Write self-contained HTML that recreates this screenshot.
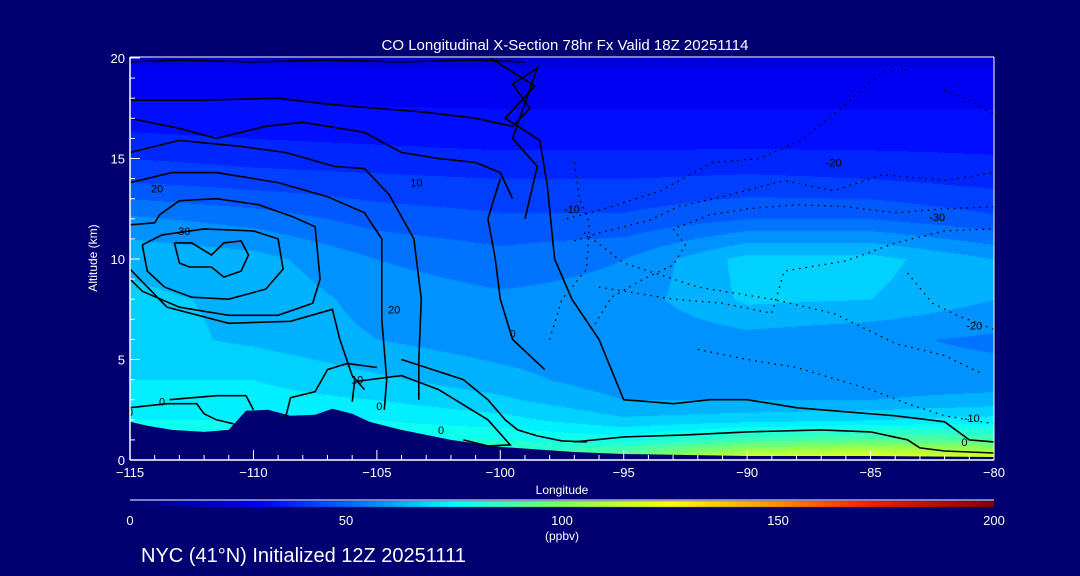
<!DOCTYPE html>
<html><head><meta charset="utf-8"><style>
html,body{margin:0;padding:0;background:#000070;}
#wrap{position:relative;width:1080px;height:576px;overflow:hidden;background:#000070;font-family:"Liberation Sans",sans-serif;}
canvas,svg{position:absolute;left:0;top:0;}
</style></head><body>
<div id="wrap">
<canvas id="cv" width="1080" height="576"></canvas>
<svg id="sv" width="1080" height="576"></svg>
</div>
<script>
const lons=[-115,-110,-105,-100,-95,-90,-85,-80];
const alts=[0,1,2,3,4,6,8,10,12,14,16,18,20];
const coValues=[
[80,80,80,85,100,122,128,122],
[78,78,80,80,78,88,92,90],
[75,75,75,72,66,68,70,72],
[72,72,70,66,60,60,60,62],
[70,70,66,62,57,57,57,57],
[67,64,60,57,56,58,56,54],
[66,64,58,56,57,66,65,60],
[64,62,55,52,55,67,67,60],
[56,53,48,46,46,50,50,46],
[44,42,41,40,40,41,40,38],
[36,35,34,33,33,33,33,33],
[30,30,29,29,29,29,29,29],
[24,24,24,24,24,24,24,24]];
const terrainLon=[-115,-114.3,-113.3,-112,-111,-110.3,-109.4,-108.5,-107.5,-106.8,-106,-105.3,-104,-102,-100,-97,-95,-90,-85,-80];
const terrainAlt=[1.9,1.7,1.5,1.4,1.5,2.45,2.5,2.2,2.25,2.55,2.3,1.9,1.5,1.0,0.65,0.4,0.3,0.2,0.2,0.15];
const cbStops=[0,30,50,75,100,125,150,170,200];
const cbColors=[[0,0,112],[0,0,255],[0,100,255],[0,255,255],[128,255,96],[255,255,0],[255,144,0],[255,32,0],[128,0,0]];
const xTicks=[-115,-110,-105,-100,-95,-90,-85,-80];
const yTicks=[0,5,10,15,20];
const cbTicks=[0,50,100,150,200];
const contours=[
{lon:[-115,-113,-110,-107,-104,-101,-99],alt:[19.8,19.9,19.8,19.9,19.8,19.9,19.8],d:0},
{lon:[-115,-112,-109,-107,-105,-103,-101,-99.5,-98.8,-99.5,-98.5,-99.5,-98.5,-99],alt:[17.9,17.9,18.0,17.7,17.5,17.3,17.0,16.6,17.5,18.7,19.5,16.0,14.6,12],d:0},
{lon:[-115,-113,-111.5,-109.5,-108,-105.5,-104,-102.5,-101,-100,-99.5],alt:[17.0,16.5,16.0,16.6,16.8,16.3,15.3,15.0,14.8,14.3,13.0],d:0},
{lon:[-115,-113,-110.5,-108.7,-106.7,-105.5,-104.5,-103.5,-103.2,-103.3,-103.3],alt:[15.3,15.9,15.6,15.3,14.6,14.5,13.2,11,8,5,3],d:0},
{lon:[-115,-113.3,-111.5,-109,-107,-105.5,-104.8,-104.8,-104.6,-104.7],alt:[13.8,14.3,14.3,13.8,13.1,12.3,11,7,4,2.5],d:0},
{lon:[-115,-114,-113.8,-113,-111.5,-109.8,-108.4,-107.5,-107.3,-107.6,-109,-111,-113,-114.5,-115],alt:[11.7,11.8,12.2,12.9,13.0,12.7,12.1,11.6,9,7.8,7.2,7.2,7.6,8.4,9],d:0},
{lon:[-114.5,-113.7,-112,-110,-109,-108.8,-109.5,-111,-112.5,-113.6,-114.3,-114.5],alt:[10.7,11.2,11.5,11.4,11.0,9.5,8.5,8.0,8.1,8.6,9.4,10.7],d:0},
{lon:[-113.2,-112.5,-111.7,-111.2,-110.5,-110.2,-110.5,-111.2,-111.7,-112.6,-113.0,-113.2],alt:[10.8,10.8,10.2,10.8,10.9,10.2,9.4,9.1,9.6,9.6,9.8,10.8],d:0},
{lon:[-115,-113.5,-111,-108.5,-106.8,-106.5,-106,-105.5],alt:[9.5,7.6,6.8,6.9,7.5,6.0,4.2,3.5],d:0},
{lon:[-100.4,-98.6,-99.8,-98.4,-98.1,-97.8,-97.1,-96,-95,-93,-91.5,-90,-88,-86,-84,-82,-81,-80],alt:[20,18.6,17.0,15.9,13.7,10,8,6.0,3.0,2.8,3.0,3.0,2.6,2.4,2.2,1.9,1.0,0.9],d:0},
{lon:[-100,-100.5,-100.2,-100,-99.5,-98.2],alt:[14,12,10,8,6,4.5],d:0},
{lon:[-115,-113.5,-112.3,-112,-111.5,-110.8],alt:[2.6,2.8,2.8,2.3,2.0,1.8],d:0},
{lon:[-113.4,-111.5,-110.3,-110],alt:[3.0,3.2,3.2,2.5],d:0},
{lon:[-108.7,-108.5,-107.5,-107,-106.2,-105],alt:[2.1,3.1,3.4,4.5,4.8,4.6],d:0},
{lon:[-106.0,-105.9,-104,-102.5,-100.5,-99.6,-100.5,-101.5],alt:[2.9,3.9,4.2,3.5,2.0,0.75,0.7,1.0],d:0},
{lon:[-104,-103,-101.5,-100.5,-99.8,-99.3,-98.5,-97.5,-96.5],alt:[5,4.6,4.0,3.0,2.0,1.5,1.2,0.95,0.9],d:0},
{lon:[-97,-95,-92.5,-90,-87,-85,-83.5,-83,-82,-80],alt:[0.9,1.15,1.25,1.4,1.5,1.4,1.0,0.6,0.45,0.35],d:0},
{lon:[-97,-96.8,-96.4,-96.5,-97.5,-98],alt:[14.8,13,11.8,9.5,8,6],d:1},
{lon:[-97.3,-95.5,-93.5,-92.3,-91.4,-89.5,-87.8,-86.5,-84.5,-83.5],alt:[12,12.6,13.4,14.2,14.8,15,15.9,17.2,19.3,19.4],d:1},
{lon:[-97,-96,-94,-92.8,-91,-88.5,-86.5,-84.5,-82,-80],alt:[10.9,11.3,11.9,12.6,13.1,13.9,13.4,14.2,13.9,14.3],d:1},
{lon:[-96.3,-95.5,-94.2,-93,-92.5,-93,-91.5,-90,-88,-86,-84,-82,-80],alt:[6.5,8.1,9.0,9.7,10.7,11.5,12.2,12.5,12.7,12.6,12.3,12.5,12.6],d:1},
{lon:[-96.6,-95,-92,-89,-86.5,-84,-82,-80.5],alt:[11.3,9.8,8.6,8.0,7.3,5.8,5.2,4.3],d:1},
{lon:[-96,-93,-91,-89,-88.5,-86,-84,-82,-80],alt:[8.6,8.0,7.8,7.3,9.4,9.9,10.8,11.4,11.5],d:1},
{lon:[-92,-90,-88,-85,-83.5,-82,-80],alt:[5.5,5.0,4.6,3.5,2.8,2.2,1.8],d:1},
{lon:[-83.5,-82.5,-81.5,-80],alt:[9.3,7.8,7.2,6.5],d:1},
{lon:[-82,-81,-80],alt:[18.4,17.9,17.2],d:1}];
const labels=[{t:"20",lon:-113.9,alt:13.3},{t:"30",lon:-112.8,alt:11.2},{t:"10",lon:-103.4,alt:13.6},{t:"20",lon:-104.3,alt:7.3},{t:"10",lon:-105.8,alt:3.8},{t:"0",lon:-104.9,alt:2.5},{t:"0",lon:-102.4,alt:1.3},{t:"0",lon:-113.7,alt:2.7},{t:"0",lon:-99.5,alt:6.1},{t:"-10",lon:-97.1,alt:12.3},{t:"-20",lon:-86.5,alt:14.6},{t:"-30",lon:-82.3,alt:11.9},{t:"-20",lon:-80.8,alt:6.5},{t:"-10",lon:-80.9,alt:1.9},{t:"0",lon:-81.2,alt:0.7},{t:"0",lon:-115,alt:2.2}];

const X0=130,X1=994,Y0=460,Y1=58;
const xs=l=>X0+(l+115)/35*(X1-X0);
const ys=a=>Y0-a/20*(Y0-Y1);
function colorOf(v){
  for(let i=1;i<cbStops.length;i++){
    if(v<=cbStops[i]){const t=(v-cbStops[i-1])/(cbStops[i]-cbStops[i-1]);const a=cbColors[i-1],b=cbColors[i];
      return [0,1,2].map(k=>Math.round(a[k]+(b[k]-a[k])*t));}
  }
  return cbColors[cbColors.length-1];
}
function seg(arr,v){for(let i=1;i<arr.length;i++)if(v<=arr[i])return i-1;return arr.length-2;}
function valAt(lon,alt){
  const i=seg(lons,lon),j=seg(alts,alt);
  const tx=(lon-lons[i])/(lons[i+1]-lons[i]),ty=(alt-alts[j])/(alts[j+1]-alts[j]);
  const a=coValues[j][i],b=coValues[j][i+1],c=coValues[j+1][i],d=coValues[j+1][i+1];
  return (a*(1-tx)+b*tx)*(1-ty)+(c*(1-tx)+d*tx)*ty;
}
const cv=document.getElementById('cv'),ctx=cv.getContext('2d');
const img=ctx.createImageData(X1-X0,Y0-Y1);
for(let py=0;py<Y0-Y1;py++){
  const alt=(Y0-(Y1+py))/(Y0-Y1)*20;
  for(let px=0;px<X1-X0;px++){
    const lon=-115+px/(X1-X0)*35;
    let v=valAt(lon,alt);
    v=Math.floor(v/5)*5+2.5;
    const c=colorOf(v);const o=(py*(X1-X0)+px)*4;
    img.data[o]=c[0];img.data[o+1]=c[1];img.data[o+2]=c[2];img.data[o+3]=255;
  }
}
ctx.putImageData(img,X0,Y1);
const cbg=ctx.createLinearGradient(X0,0,X1,0);
cbStops.forEach((s,i)=>cbg.addColorStop(s/200,'rgb('+cbColors[i].join(',')+')'));
ctx.fillStyle=cbg;ctx.fillRect(X0,501,X1-X0,6);

const NS='http://www.w3.org/2000/svg';
const sv=document.getElementById('sv');
function mk(tag,attrs,parent){const e=document.createElementNS(NS,tag);for(const k in attrs)e.setAttribute(k,attrs[k]);(parent||sv).appendChild(e);return e;}
let tp='M'+X0+','+Y0;
terrainLon.forEach((l,i)=>{tp+=' L'+xs(l).toFixed(1)+','+ys(terrainAlt[i]).toFixed(1);});
tp+=' L'+X1+','+Y0+' Z';
const terr=mk('path',{d:tp,fill:'#000070'});


contours.forEach((c,k)=>{
  const pts=c.lon.map((l,i)=>xs(l).toFixed(1)+','+ys(c.alt[i]).toFixed(1)).join(' ');
  const pl=mk('polyline',{points:pts,fill:'none',stroke:'#000','stroke-width':c.d?1.3:1.6,'stroke-dasharray':c.d?'1.5 5':'none'});
  
  
});
labels.forEach(lb=>{
  const t=mk('text',{x:xs(lb.lon),y:ys(lb.alt),fill:'#000','font-size':11,'text-anchor':'middle'});
  t.textContent=lb.t;
  
  
});
mk('line',{x1:X0,y1:Y0,x2:X1,y2:Y0,stroke:'#fff','stroke-width':1.5});
mk('line',{x1:X0,y1:Y1-1,x2:X1,y2:Y1-1,stroke:'#fff','stroke-width':1});
mk('line',{x1:X1,y1:Y1-1,x2:X1,y2:Y0,stroke:'#fff','stroke-width':1});
mk('line',{x1:X0,y1:Y1-1,x2:X0,y2:Y0,stroke:'#fff','stroke-width':1.5});
for(let l=-115;l<=-80;l++){
  const major=(l%5===0);
  mk('line',{x1:xs(l),y1:Y0,x2:xs(l),y2:Y0-(major?10:5),stroke:'#fff','stroke-width':1});
}
xTicks.forEach(l=>{
  const t=mk('text',{x:xs(l),y:477,fill:'#fff','font-size':13,'text-anchor':'middle'});
  t.textContent=(l<0?'\u2212'+(-l):l);
  
  
});
for(let a=0;a<=20;a++){
  const major=(a%5===0);
  mk('line',{x1:X0,y1:ys(a),x2:X0+(major?10:5),y2:ys(a),stroke:'#fff','stroke-width':1});
}
yTicks.forEach(a=>{
  const t=mk('text',{x:125,y:ys(a)+5,fill:'#fff','font-size':13,'text-anchor':'end'});
  t.textContent=a;
  
  
});
mk('line',{x1:X0,y1:500,x2:X1,y2:500,stroke:'#fff','stroke-width':1});
cbTicks.forEach(v=>{
  const t=mk('text',{x:X0+v/200*(X1-X0),y:525,fill:'#fff','font-size':13,'text-anchor':'middle'});
  t.textContent=v;
  
  
});
</script>
<svg width="1080" height="576" style="position:absolute;left:0;top:0">
<text x="565" y="50" fill="#fff" font-size="15" text-anchor="middle" font-family="Liberation Sans, sans-serif">CO Longitudinal X-Section 78hr  Fx Valid 18Z 20251114</text>
<text x="562" y="494" fill="#fff" font-size="12" text-anchor="middle" font-family="Liberation Sans, sans-serif">Longitude</text>
<text x="97" y="258" fill="#fff" font-size="12" text-anchor="middle" transform="rotate(-90 97 258)" font-family="Liberation Sans, sans-serif">Altitude (km)</text>
<text x="562" y="540" fill="#fff" font-size="12" text-anchor="middle" font-family="Liberation Sans, sans-serif">(ppbv)</text>
<text x="141" y="562" fill="#fff" font-size="20" font-family="Liberation Sans, sans-serif">NYC (41°N) Initialized 12Z 20251111</text>
</svg>
</body></html>
